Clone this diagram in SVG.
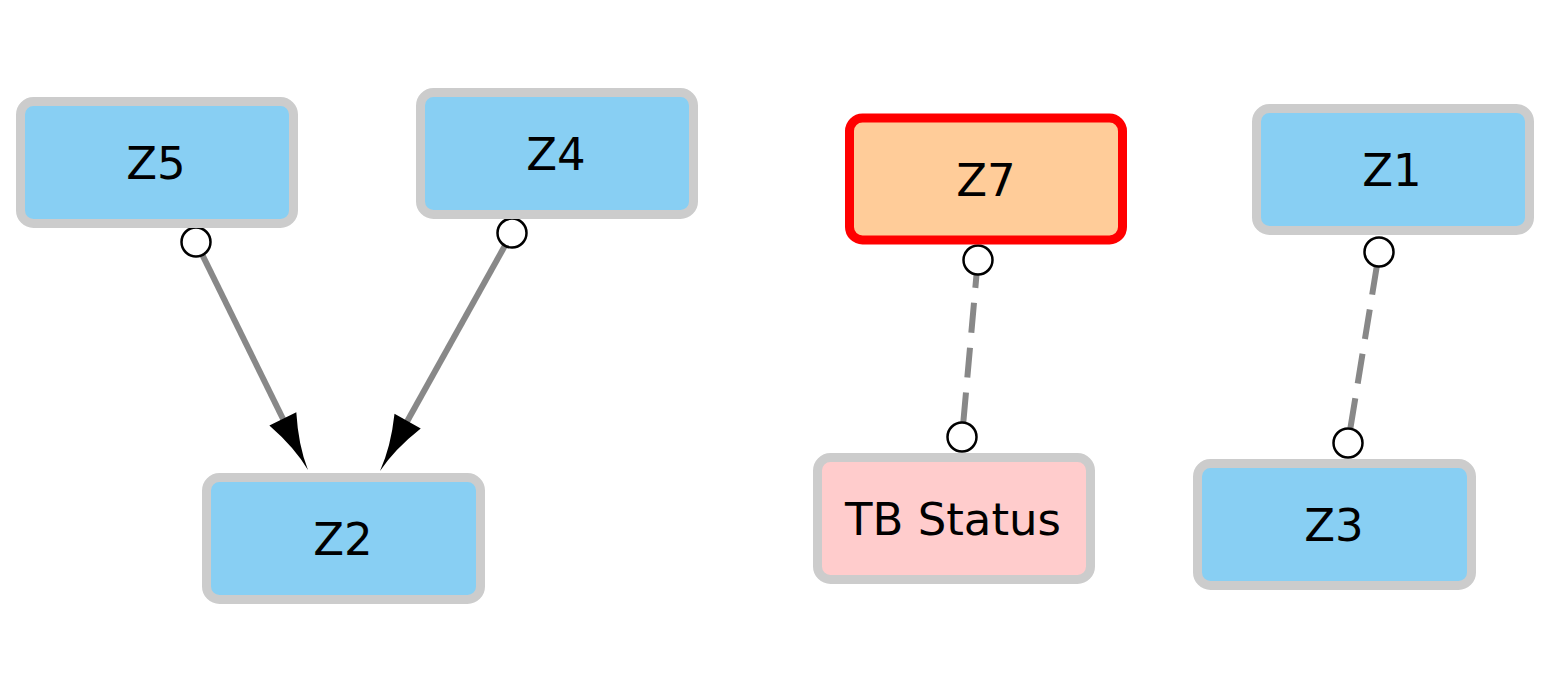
<svg xmlns="http://www.w3.org/2000/svg" width="1550" height="693" viewBox="0 0 1550 693">
<style>
.box{stroke:#cccccc;stroke-width:9;fill:#88cff3}
.lbl{font-family:"DejaVu Sans","Liberation Sans",sans-serif;font-size:45px;fill:#000;text-anchor:middle}
.edge{stroke:#888888;stroke-width:6;fill:none}
.dash{stroke-dasharray:30 15}
.end{fill:#fff;stroke:#000;stroke-width:2.5}
.head{fill:#000}
</style>
<defs>
<path id="arrowhead" d="M0,0 Q-26,2 -57,15 L-57,-15 Q-26,-2 0,0 Z"/>
</defs>
<rect width="1550" height="693" fill="#fff"/>
<g id="connectors">
<line class="edge" x1="196" y1="242" x2="286" y2="425"/>
<line class="edge" x1="512" y1="233" x2="404" y2="427"/>
<use class="head" href="#arrowhead" transform="translate(308,470) rotate(63.8)"/>
<use class="head" href="#arrowhead" transform="translate(380,471) rotate(119)"/>
<line class="edge dash" x1="978" y1="258" x2="962" y2="437"/>
<line class="edge dash" x1="1377" y1="265" x2="1348" y2="443"/>
<circle class="end" cx="196" cy="242" r="14.5"/>
<circle class="end" cx="512" cy="233" r="14.5"/>
<circle class="end" cx="978" cy="260" r="14.5"/>
<circle class="end" cx="962" cy="437" r="14.5"/>
<circle class="end" cx="1379" cy="252" r="14.5"/>
<circle class="end" cx="1348" cy="443" r="14.5"/>
</g>
<g id="Z5"><rect class="box" x="20.5" y="101.5" width="273" height="122" rx="13"/><text class="lbl" x="156" y="179">Z5</text></g>
<g id="Z4"><rect class="box" x="420.5" y="92.5" width="273" height="122" rx="13"/><text class="lbl" x="556" y="170">Z4</text></g>
<g id="Z7"><rect x="849.5" y="118" width="273" height="122" rx="13" fill="#ffcc99" stroke="#ff0000" stroke-width="9"/><text class="lbl" x="986" y="196">Z7</text></g>
<g id="Z1"><rect class="box" x="1256.5" y="108.5" width="273" height="122" rx="13"/><text class="lbl" x="1392" y="186">Z1</text></g>
<g id="Z2"><rect class="box" x="206.5" y="477.5" width="274" height="122" rx="13"/><text class="lbl" x="343" y="555">Z2</text></g>
<g id="TBStatus"><rect class="box" x="817.5" y="457.5" width="273" height="122" rx="13" style="fill:#ffcccc"/><text class="lbl" x="953" y="535">TB Status</text></g>
<g id="Z3"><rect class="box" x="1197.5" y="463.5" width="274" height="122" rx="13"/><text class="lbl" x="1334" y="541">Z3</text></g>
</svg>
